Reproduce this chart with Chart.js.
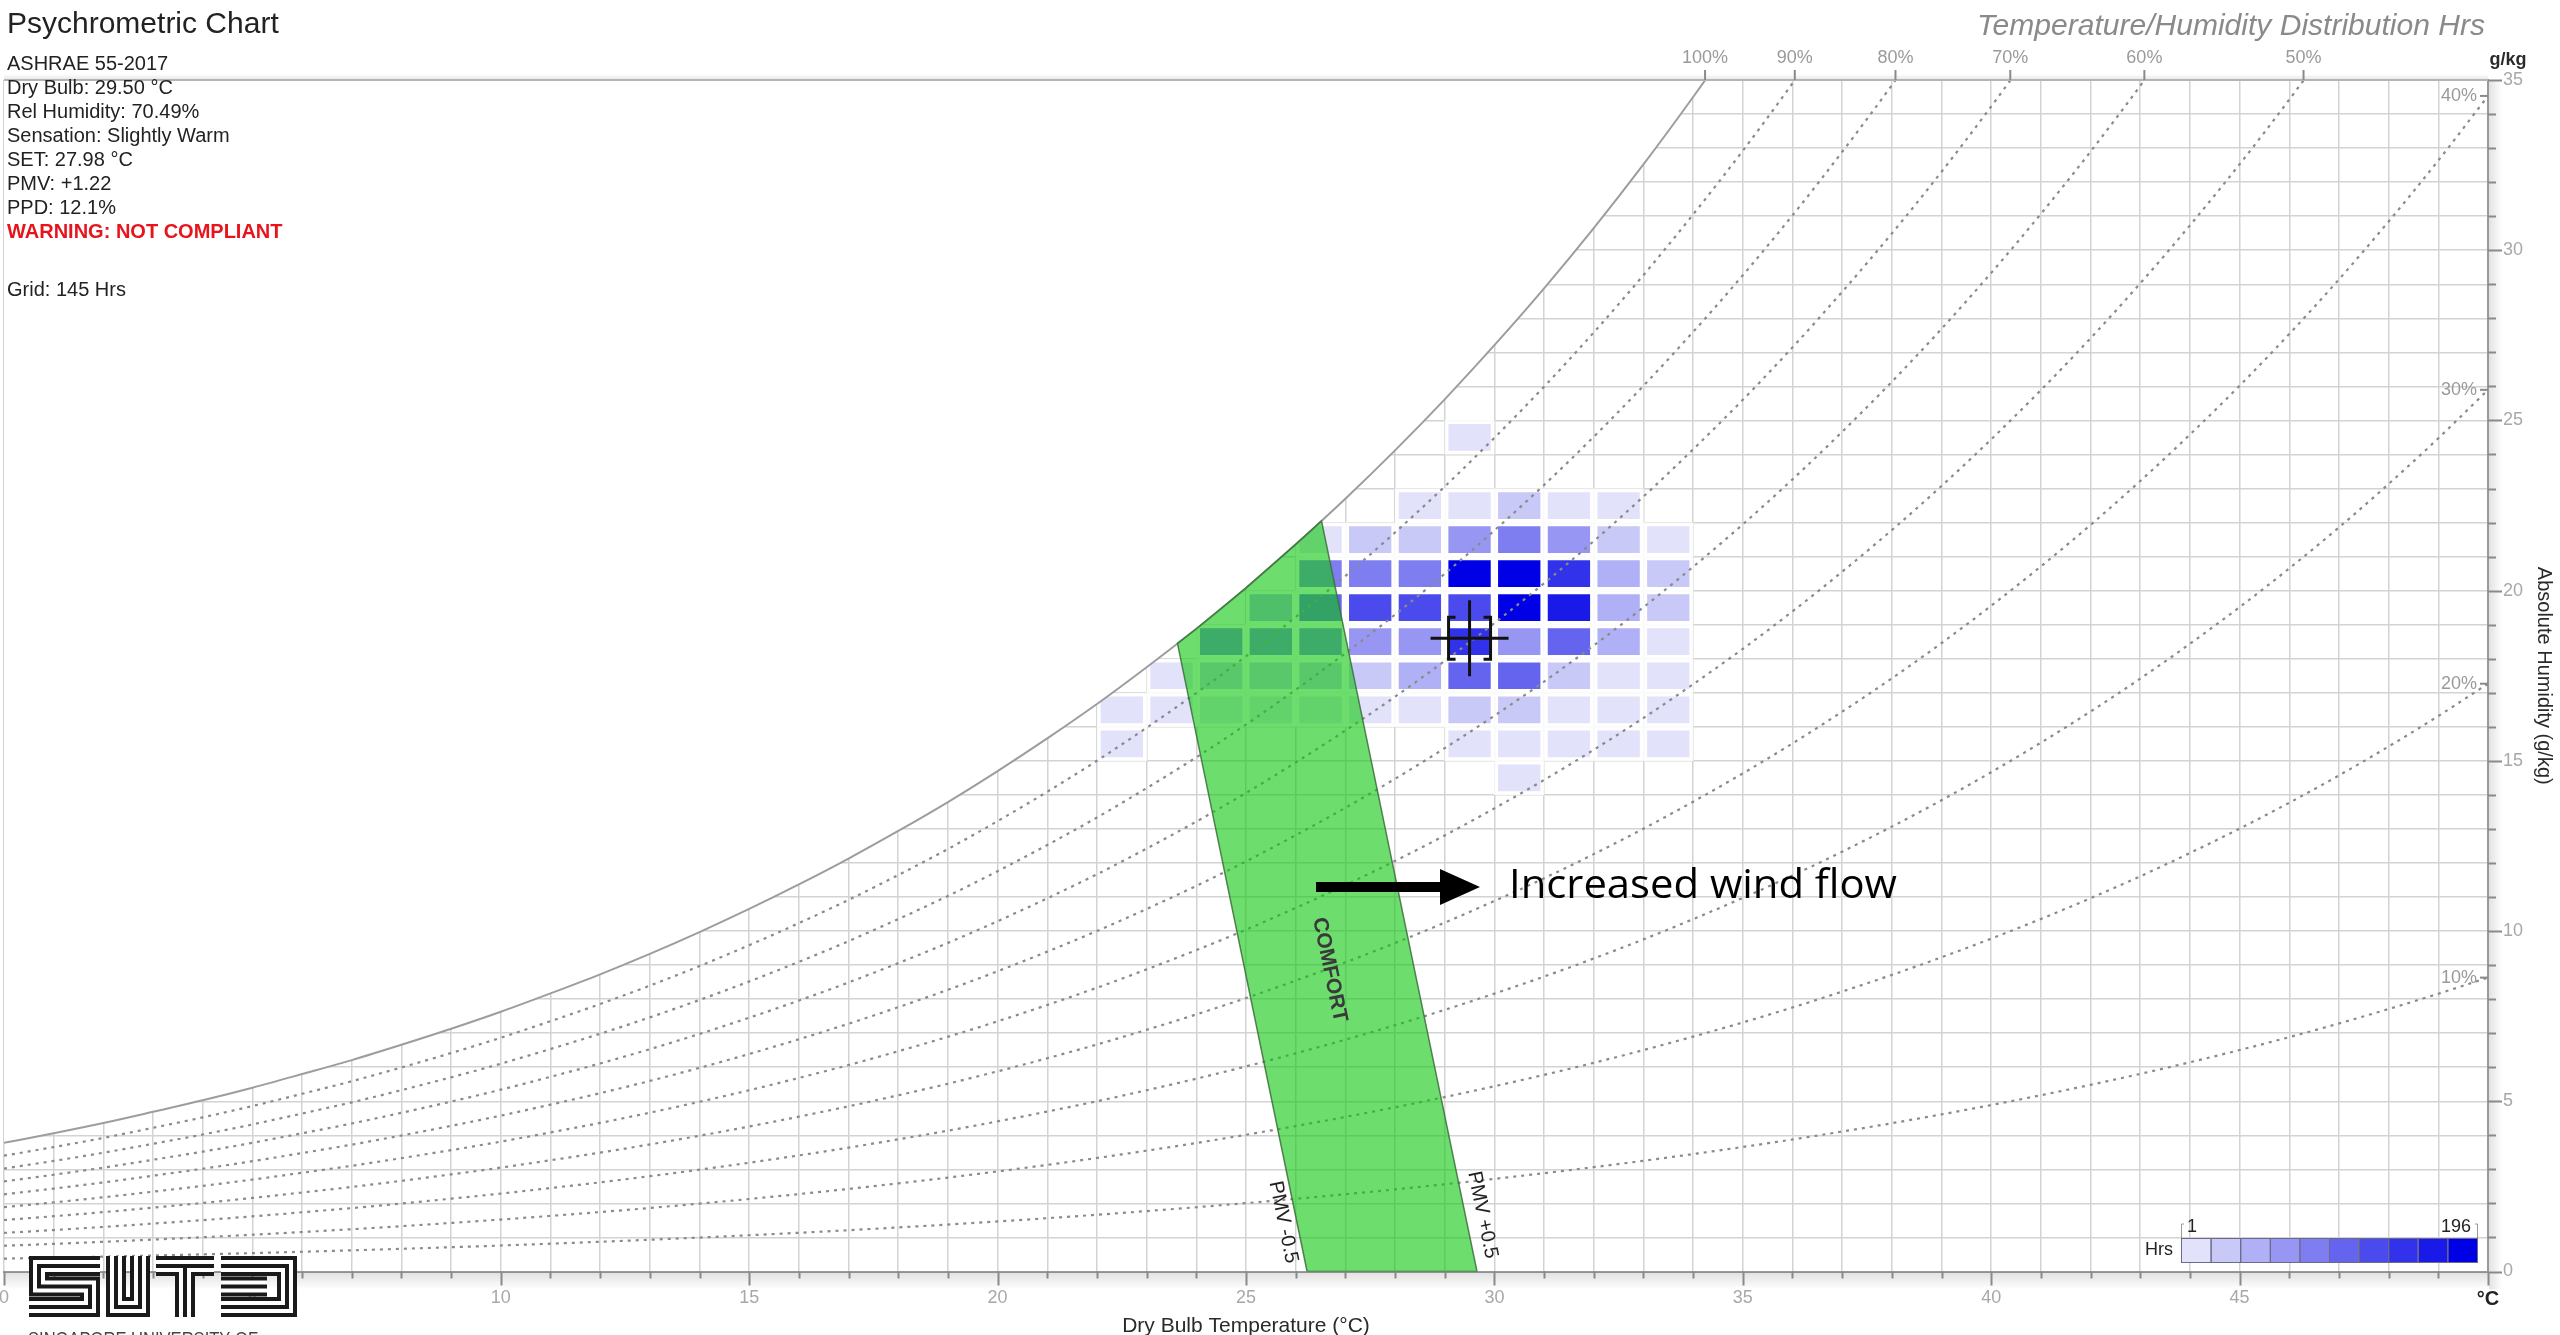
<!DOCTYPE html>
<html>
<head>
<meta charset="utf-8">
<title>Psychrometric Chart</title>
<script src="https://cdn.jsdelivr.net/npm/chart.js@4.4.1/dist/chart.umd.min.js"></script>
<style>
  html, body { margin: 0; padding: 0; background: #fff; overflow: hidden; }
  #box { position: relative; width: 2560px; height: 1335px; }
</style>
</head>
<body>
<div id="box"><canvas id="psy"></canvas></div>
<script>
// dry bulb steps (°C) and saturation humidity ratio (g/kg)
var satTemp = [0, 1, 2, 3, 4, 5, 6, 7, 8, 9, 10, 11, 12, 13, 14, 15, 16, 17, 18, 19, 20,
  21, 22, 23, 24, 25, 26, 27, 28, 29, 30, 31, 32, 33, 34, 35, 36, 37, 38, 39, 40,
  41, 42, 43, 44, 45, 46, 47, 48, 49, 50];
var satHumidity = [3.78, 4.06, 4.36, 4.69, 5.03, 5.40, 5.80, 6.21, 6.66, 7.13, 7.63,
  8.17, 8.73, 9.33, 9.97, 10.65, 11.37, 12.13, 12.94, 13.79, 14.70,
  15.66, 16.67, 17.75, 18.88, 20.08, 21.36, 22.70, 24.12, 25.62, 27.21,
  28.88, 30.65, 32.52, 34.50, 36.58, 38.78, 41.11, 43.56, 46.15, 48.89,
  51.78, 54.83, 58.05, 61.46, 65.05, 68.85, 72.86, 77.11, 81.59, 86.33];
var rhLevels = [100, 90, 80, 70, 60, 50, 40, 30, 20, 10];

// comfort zone outline (PMV -0.5 edge, saturation, PMV +0.5 edge)
var comfortTemp = [26.23, 23.62, 24, 25, 26, 26.52, 29.65, 26.23];
var comfortHum = [0, 18.45, 18.88, 20.08, 21.36, 22.05, 0, 0];

// hours per 1 °C x 1 g/kg cell (lower left corner)
var cellTemp = [
  29,
  28, 29, 30, 31, 32,
  26, 27, 28, 29, 30, 31, 32, 33,
  26, 27, 28, 29, 30, 31, 32, 33,
  25, 26, 27, 28, 29, 30, 31, 32, 33,
  24, 25, 26, 27, 28, 29, 30, 31, 32, 33,
  23, 24, 25, 26, 27, 28, 29, 30, 31, 32, 33,
  22, 23, 24, 25, 26, 27, 28, 29, 30, 31, 32, 33,
  22, 29, 30, 31, 32, 33,
  30];
var cellHum = [
  24,
  22, 22, 22, 22, 22,
  21, 21, 21, 21, 21, 21, 21, 21,
  20, 20, 20, 20, 20, 20, 20, 20,
  19, 19, 19, 19, 19, 19, 19, 19, 19,
  18, 18, 18, 18, 18, 18, 18, 18, 18, 18,
  17, 17, 17, 17, 17, 17, 17, 17, 17, 17, 17,
  16, 16, 16, 16, 16, 16, 16, 16, 16, 16, 16, 16,
  15, 15, 15, 15, 15, 15,
  14];
var cellHours = [
  12,
  12, 12, 30, 12, 12,
  12, 30, 30, 70, 90, 70, 30, 12,
  90, 90, 90, 190, 196, 148, 50, 30,
  50, 110, 128, 128, 128, 190, 168, 50, 30,
  90, 90, 90, 70, 70, 148, 70, 110, 50, 12,
  12, 30, 30, 30, 30, 50, 110, 110, 30, 12, 12,
  12, 12, 12, 12, 12, 12, 12, 30, 30, 12, 12, 12,
  12, 12, 12, 12, 12, 12,
  12];
var hoursRange = [1, 196];

// current condition marker
var markerTemp = [29.5];
var markerHum = [18.6];

var infoLines = ['ASHRAE 55-2017', 'Dry Bulb: 29.50 °C', 'Rel Humidity: 70.49%',
  'Sensation: Slightly Warm', 'SET: 27.98 °C', 'PMV: +1.22', 'PPD: 12.1%'];

var FONT = '"Liberation Sans", Arial, sans-serif';
Chart.defaults.font.family = FONT;

function level(h) {
  var span = (hoursRange[1] - hoursRange[0]) / 10;
  return Math.min(10, Math.max(1, Math.ceil((h - hoursRange[0]) / span)));
}
function levelColor(l) {
  var k = (l - 1) / 9;
  var c = Math.round(226 * (1 - k));
  var b = Math.round(250 - 20 * k);
  return 'rgb(' + c + ',' + c + ',' + b + ')';
}
function satAt(t) {
  var i = Math.max(0, Math.min(Math.floor(t), satTemp.length - 2));
  var f = t - satTemp[i];
  return satHumidity[i] + f * (satHumidity[i + 1] - satHumidity[i]);
}
// where an RH line reaches a given humidity
function tempAtHum(rh, w) {
  for (var i = 0; i < satTemp.length - 1; i++) {
    var a = satHumidity[i] * rh / 100, b = satHumidity[i + 1] * rh / 100;
    if (a <= w && b >= w) return satTemp[i] + (w - a) / (b - a);
  }
  return null;
}

var datasets = [];
datasets.push({
  type: 'line', label: 'Comfort', order: 0,
  data: comfortTemp.map(function (t, i) { return { x: t, y: comfortHum[i] }; }),
  fill: 'shape', backgroundColor: 'rgba(20,200,20,0.62)',
  borderColor: 'rgba(60,110,60,0.85)', borderWidth: 1.5, pointRadius: 0, tension: 0
});
rhLevels.forEach(function (rh) {
  if (rh === 100) return;
  datasets.push({
    type: 'line', label: rh + '%', order: 1,
    data: satTemp.map(function (t, i) { return { x: t, y: satHumidity[i] * rh / 100 }; }),
    borderColor: '#8a8a8a', borderWidth: 2.2, borderDash: [3, 5],
    pointRadius: 0, fill: false, cubicInterpolationMode: 'monotone'
  });
});
datasets.push({
  type: 'line', label: '100%', order: 2,
  data: satTemp.map(function (t, i) { return { x: t, y: satHumidity[i] }; }),
  fill: 'end', backgroundColor: '#ffffff',
  borderColor: '#9d9d9d', borderWidth: 2, pointRadius: 0, cubicInterpolationMode: 'monotone'
});
datasets.push({
  type: 'bar', label: 'Hrs', order: 3,
  data: cellTemp.map(function (t, i) { return { x: t + 0.5, y: [cellHum[i], cellHum[i] + 1] }; }),
  backgroundColor: cellHours.map(function (h) { return levelColor(level(h)); }),
  borderColor: 'rgba(255,255,255,0.85)', borderWidth: 4, borderSkipped: false,
  barPercentage: 1, categoryPercentage: 1
});

function txt(ctx, s, x, y, font, color, align, base) {
  ctx.font = font; ctx.fillStyle = color;
  ctx.textAlign = align || 'left'; ctx.textBaseline = base || 'alphabetic';
  ctx.fillText(s, x, y);
}
function fitTxt(ctx, s, x, y, font, color, width, base) {
  ctx.save();
  ctx.font = font; ctx.fillStyle = color; ctx.textAlign = 'left'; ctx.textBaseline = base || 'middle';
  var k = width / ctx.measureText(s).width;
  ctx.translate(x, y); ctx.scale(k, 1);
  ctx.fillText(s, 0, 0);
  ctx.restore();
}
function rotTxt(ctx, s, x, y, ang, font, color) {
  ctx.save();
  ctx.translate(x, y); ctx.rotate(ang);
  txt(ctx, s, 0, 0, font, color, 'center', 'middle');
  ctx.restore();
}

var decor = {
  id: 'decor',
  afterDatasetsDraw: function (chart) {
    var ctx = chart.ctx, xs = chart.scales.x, ys = chart.scales.y;
    // comfort labels along the PMV edges
    var p0 = { x: xs.getPixelForValue(comfortTemp[0]), y: ys.getPixelForValue(comfortHum[0]) };
    var p1 = { x: xs.getPixelForValue(comfortTemp[1]), y: ys.getPixelForValue(comfortHum[1]) };
    var ang = Math.atan2(p0.y - p1.y, p0.x - p1.x);
    rotTxt(ctx, 'COMFORT', xs.getPixelForValue(26.68), ys.getPixelForValue(8.86), ang, 'bold 21px ' + FONT, '#3a3a3a');
    rotTxt(ctx, 'PMV -0.5', xs.getPixelForValue(25.75), ys.getPixelForValue(1.45), ang, '20px ' + FONT, '#222');
    rotTxt(ctx, 'PMV +0.5', xs.getPixelForValue(29.76), ys.getPixelForValue(1.66), ang, '20px ' + FONT, '#222');

    // current condition crosshair
    var cx = xs.getPixelForValue(markerTemp[0]), cy = ys.getPixelForValue(markerHum[0]);
    ctx.save();
    ctx.strokeStyle = '#111'; ctx.lineWidth = 3;
    ctx.beginPath();
    ctx.moveTo(cx - 39, cy); ctx.lineTo(cx + 39, cy);
    ctx.moveTo(cx, cy - 38); ctx.lineTo(cx, cy + 38);
    var b = 21, s = 7;
    ctx.moveTo(cx - b + s, cy - b); ctx.lineTo(cx - b, cy - b); ctx.lineTo(cx - b, cy + b); ctx.lineTo(cx - b + s, cy + b);
    ctx.moveTo(cx + b - s, cy - b); ctx.lineTo(cx + b, cy - b); ctx.lineTo(cx + b, cy + b); ctx.lineTo(cx + b - s, cy + b);
    ctx.stroke();
    ctx.restore();
  },
  afterDraw: function (chart) {
    var ctx = chart.ctx, a = chart.chartArea, xs = chart.scales.x, ys = chart.scales.y;
    var t, w, g, px, py, len;
    ctx.save();

    // axis shadows
    g = ctx.createLinearGradient(0, a.bottom, 0, a.bottom + 18);
    g.addColorStop(0, 'rgba(0,0,0,0.12)'); g.addColorStop(1, 'rgba(0,0,0,0)');
    ctx.fillStyle = g; ctx.fillRect(a.left, a.bottom + 1, a.right - a.left, 18);
    g = ctx.createLinearGradient(a.right, 0, a.right + 14, 0);
    g.addColorStop(0, 'rgba(0,0,0,0.12)'); g.addColorStop(1, 'rgba(0,0,0,0)');
    ctx.fillStyle = g; ctx.fillRect(a.right + 1, a.top, 14, a.bottom - a.top + 18);
    g = ctx.createLinearGradient(0, a.top - 6, 0, a.top);
    g.addColorStop(0, 'rgba(0,0,0,0)'); g.addColorStop(1, 'rgba(0,0,0,0.10)');
    ctx.fillStyle = g; ctx.fillRect(a.left, a.top - 6, a.right - a.left, 6);
    ctx.strokeStyle = '#b4b4b4'; ctx.lineWidth = 2;
    ctx.beginPath(); ctx.moveTo(a.left, a.top); ctx.lineTo(a.right, a.top); ctx.stroke();

    // tick marks
    ctx.strokeStyle = '#8a8a8a'; ctx.lineWidth = 2;
    ctx.beginPath();
    for (t = xs.min; t <= xs.max; t++) {
      px = Math.round(xs.getPixelForValue(t)) + 0.5;
      len = t % 5 === 0 ? 14 : 7;
      ctx.moveTo(px, a.bottom); ctx.lineTo(px, a.bottom + len);
    }
    for (w = ys.min; w <= ys.max; w++) {
      py = Math.round(ys.getPixelForValue(w)) + 0.5;
      len = w % 5 === 0 ? 14 : 8;
      ctx.moveTo(a.right, py); ctx.lineTo(a.right + len, py);
    }
    ctx.stroke();

    // RH labels
    rhLevels.forEach(function (rh) {
      var tt = tempAtHum(rh, ys.max);
      ctx.strokeStyle = '#8a8a8a'; ctx.lineWidth = 2;
      if (tt !== null && tt <= xs.max) {
        px = xs.getPixelForValue(tt);
        ctx.beginPath(); ctx.moveTo(px, a.top - 10); ctx.lineTo(px, a.top); ctx.stroke();
        txt(ctx, rh + '%', px, a.top - 22, '18px ' + FONT, '#9a9a9a', 'center', 'middle');
      } else {
        py = ys.getPixelForValue(satAt(xs.max) * rh / 100);
        ctx.beginPath(); ctx.moveTo(a.right - 8, py); ctx.lineTo(a.right, py); ctx.stroke();
        txt(ctx, rh + '%', a.right - 11, py, '18px ' + FONT, '#9a9a9a', 'right', 'middle');
      }
    });

    // axis titles
    txt(ctx, 'g/kg', a.right + 20, 60, 'bold 18px ' + FONT, '#2a2a2a', 'center', 'middle');
    ctx.save();
    ctx.translate(2544, (a.top + a.bottom) / 2); ctx.rotate(Math.PI / 2);
    txt(ctx, 'Absolute Humidity (g/kg)', 0, 0, '20px ' + FONT, '#2a2a2a', 'center', 'middle');
    ctx.restore();
    txt(ctx, 'Dry Bulb Temperature (°C)', (a.left + a.right) / 2, 1332, '21px ' + FONT, '#2a2a2a', 'center', 'alphabetic');

    // titles and info block
    txt(ctx, 'Psychrometric Chart', 7, 33, '30px ' + FONT, '#222', 'left', 'alphabetic');
    infoLines.forEach(function (s, i) {
      txt(ctx, s, 7, 70 + i * 24, '20px ' + FONT, '#222', 'left', 'alphabetic');
    });
    txt(ctx, 'WARNING: NOT COMPLIANT', 7, 70 + 7 * 24, 'bold 20px ' + FONT, '#e8141c', 'left', 'alphabetic');
    txt(ctx, 'Grid: 145 Hrs', 7, 296, '20px ' + FONT, '#222', 'left', 'alphabetic');
    fitTxt(ctx, 'Temperature/Humidity Distribution Hrs', 1977, 27, 'italic 30px ' + FONT, '#8a8a8a', 508, 'middle');

    // annotation arrow
    var ay = 887;
    ctx.fillStyle = '#000';
    ctx.fillRect(1316, ay - 5, 128, 10);
    ctx.beginPath(); ctx.moveTo(1440, ay - 18); ctx.lineTo(1480, ay); ctx.lineTo(1440, ay + 18); ctx.closePath(); ctx.fill();
    fitTxt(ctx, 'Increased wind flow', 1509, ay, '40px "Open Sans", Lato, sans-serif', '#000', 388, 'middle');

    // hours colour bar
    var bx0 = 2181, bx1 = 2477, by0 = 1238, by1 = 1262, sw = (bx1 - bx0) / 10;
    for (var l = 1; l <= 10; l++) {
      ctx.fillStyle = levelColor(l);
      ctx.fillRect(bx0 + (l - 1) * sw, by0, sw, by1 - by0);
    }
    ctx.strokeStyle = '#6a6a8a'; ctx.lineWidth = 1;
    for (l = 0; l < 10; l++) ctx.strokeRect(bx0 + l * sw + 0.5, by0 + 0.5, sw, by1 - by0);
    ctx.strokeStyle = '#999'; ctx.beginPath();
    ctx.moveTo(bx0 + 0.5, by0); ctx.lineTo(bx0 + 0.5, by0 - 14); ctx.lineTo(bx0 + 3, by0 - 14);
    ctx.moveTo(bx1 + 0.5, by0); ctx.lineTo(bx1 + 0.5, by0 - 14); ctx.lineTo(bx1 - 2, by0 - 14);
    ctx.stroke();
    txt(ctx, 'Hrs', bx0 - 8, (by0 + by1) / 2, '18px ' + FONT, '#222', 'right', 'middle');
    txt(ctx, String(hoursRange[0]), bx0 + 6, by0 - 11, '18px ' + FONT, '#222', 'left', 'middle');
    txt(ctx, String(hoursRange[1]), bx1 - 6, by0 - 11, '18px ' + FONT, '#222', 'right', 'middle');

    // SUTD logo
    var u = 4, c = 2.5 * u, top = 1256, h = 61;
    var letters = [
      { x: 29, paths: [[[71, c], [c, c], [c, h / 2], [71 - c, h / 2], [71 - c, h - c], [0, h - c]]] },
      { x: 106, paths: [[[c, 0], [c, h - c], [44 - c, h - c], [44 - c, 0]]] },
      { x: 156, paths: [[[0, c], [58, c]], [[29, c], [29, h]]] },
      { x: 221, paths: [[[0, c], [76 - c, c], [76 - c, h - c], [0, h - c]], [[0, h / 2], [76 - 3 * c, h / 2]]] }
    ];
    ctx.lineJoin = 'miter'; ctx.lineCap = 'butt';
    [[5 * u, '#1a1a1a'], [3 * u, '#ffffff'], [u, '#1a1a1a']].forEach(function (pass) {
      ctx.lineWidth = pass[0]; ctx.strokeStyle = pass[1];
      letters.forEach(function (L) {
        L.paths.forEach(function (p) {
          ctx.beginPath();
          p.forEach(function (q, i) {
            if (i === 0) ctx.moveTo(L.x + q[0], top + q[1]); else ctx.lineTo(L.x + q[0], top + q[1]);
          });
          ctx.stroke();
        });
      });
    });
    fitTxt(ctx, 'SINGAPORE UNIVERSITY OF', 28, 1331, '18px ' + FONT, '#444', 230, 'top');

    ctx.restore();
  }
};

new Chart(document.getElementById('psy'), {
  type: 'bar',
  data: { datasets: datasets },
  options: {
    responsive: true, maintainAspectRatio: false, animation: false, devicePixelRatio: 1, events: [],
    layout: { padding: { left: 4, top: 80, right: 0, bottom: 0 } },
    plugins: { legend: { display: false }, tooltip: { enabled: false } },
    scales: {
      x: {
        type: 'linear', position: 'bottom', min: 0, max: 50, offset: false,
        grid: { color: '#d3d3d3', lineWidth: 1.5, drawTicks: false, offset: false },
        border: { color: '#9a9a9a', width: 2 },
        ticks: {
          stepSize: 1, autoSkip: false, maxRotation: 0, padding: 16,
          color: function (c) { return c.tick && c.tick.value === 50 ? '#222' : '#a8a8a8'; },
          font: function (c) { return c.tick && c.tick.value === 50 ? { size: 20, weight: 'bold' } : { size: 18 }; },
          callback: function (v) { return v % 5 === 0 ? (v === 50 ? '°C' : String(v)) : ''; }
        },
        afterFit: function (s) { s.height = 63.5; s.paddingLeft = 0; s.paddingRight = 0; }
      },
      y: {
        type: 'linear', position: 'right', min: 0, max: 35,
        grid: { color: '#d3d3d3', lineWidth: 1.5, drawTicks: false },
        border: { color: '#9a9a9a', width: 2 },
        ticks: {
          stepSize: 1, autoSkip: false, padding: 15, color: '#a8a8a8', font: { size: 18 },
          callback: function (v) { return v % 5 === 0 ? String(v) : ''; }
        },
        afterFit: function (s) { s.width = 72; s.paddingTop = 0; s.paddingBottom = 0; }
      }
    }
  },
  plugins: [decor]
});
</script>
</body>
</html>
